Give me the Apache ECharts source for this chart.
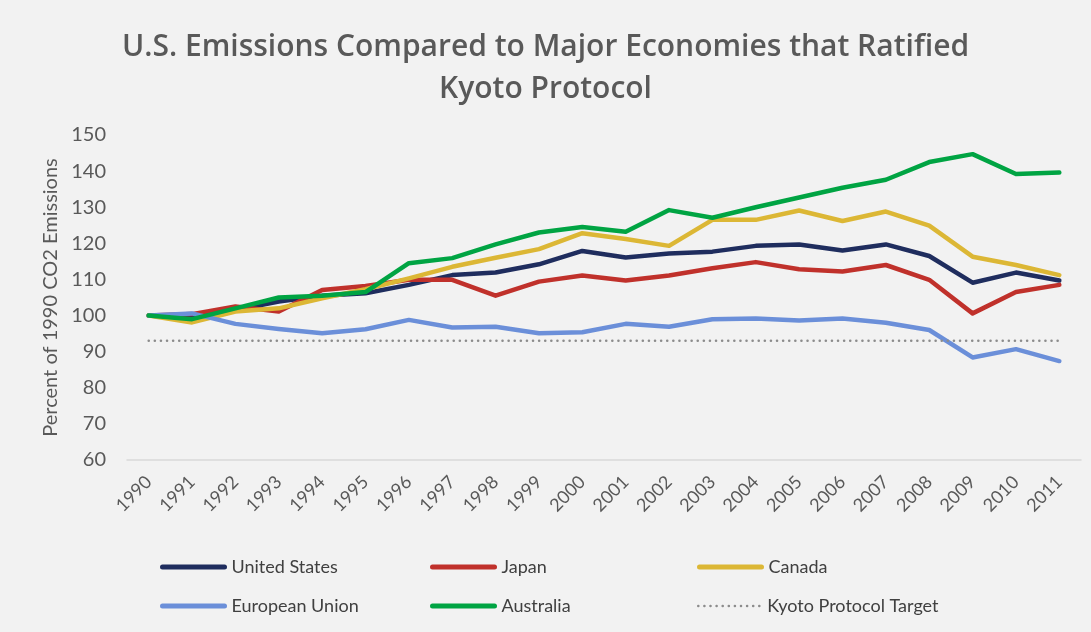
<!DOCTYPE html>
<html>
<head>
<meta charset="utf-8">
<script src="https://cdn.jsdelivr.net/npm/echarts@6/dist/echarts.min.js"></script>
<style>
  html, body { margin: 0; padding: 0; background: #f2f2f2; }
  #chart { width: 1091px; height: 632px; }
</style>
</head>
<body>
<div id="chart"></div>
<script>
const years = ['1990','1991','1992','1993','1994','1995','1996','1997','1998','1999','2000','2001','2002','2003','2004','2005','2006','2007','2008','2009','2010','2011'];
const unitedStates = [100, 99.3, 101.5, 103.9, 105.5, 106.2, 108.5, 111.2, 111.9, 114.2, 117.9, 116.1, 117.2, 117.7, 119.3, 119.7, 118.0, 119.7, 116.5, 109.1, 111.9, 109.7];
const japan = [100, 100.4, 102.5, 101.1, 107.1, 108.2, 109.9, 109.9, 105.5, 109.4, 111.1, 109.7, 111.1, 113.1, 114.8, 112.8, 112.2, 114.0, 109.9, 100.6, 106.5, 108.5];
const canada = [100, 98.1, 101.1, 102.0, 104.8, 107.3, 110.3, 113.5, 116.0, 118.4, 122.8, 121.2, 119.3, 126.5, 126.5, 129.1, 126.2, 128.8, 124.9, 116.3, 114.0, 111.2];
const europeanUnion = [100, 100.6, 97.7, 96.3, 95.1, 96.2, 98.8, 96.7, 96.9, 95.1, 95.4, 97.7, 96.9, 99.0, 99.2, 98.6, 99.2, 98.0, 96.0, 88.4, 90.7, 87.4];
const australia = [100, 99.0, 102.0, 105.0, 105.5, 106.5, 114.5, 115.9, 119.7, 123.0, 124.5, 123.2, 129.2, 127.1, 130.0, 132.7, 135.4, 137.6, 142.5, 144.7, 139.2, 139.6];
const kyotoTarget = [93, 93, 93, 93, 93, 93, 93, 93, 93, 93, 93, 93, 93, 93, 93, 93, 93, 93, 93, 93, 93, 93];
const yTicks = [60, 70, 80, 90, 100, 110, 120, 130, 140, 150];

const FONT = 'Lato';
const chart = echarts.init(document.getElementById('chart'));

function lineSeries(name, data, color, extra) {
  return Object.assign({
    name: name,
    type: 'line',
    data: data,
    symbol: 'none',
    smooth: false,
    lineStyle: { color: color, width: 4.5, cap: 'round', join: 'round' },
    itemStyle: { color: color },
    emphasis: { disabled: true }
  }, extra || {});
}

function legendAt(name, left, top, lineWidth) {
  return {
    data: [name],
    left: left,
    top: top,
    padding: 0,
    itemWidth: 62,
    itemHeight: 6,
    itemGap: 0,
    itemStyle: { opacity: 0 },
    lineStyle: { width: lineWidth || 5 },
    textStyle: { fontFamily: FONT, fontSize: 18, color: '#404040', padding: [0, 0, 0, 2] },
    selectedMode: false
  };
}

chart.setOption({
  backgroundColor: '#f2f2f2',
  animation: false,
  title: {
    text: 'U.S. Emissions Compared to Major Economies that Ratified\nKyoto Protocol',
    left: 'center',
    top: 21,
    textStyle: { fontFamily: 'Open Sans', fontSize: 30, fontWeight: 600, color: '#595959', lineHeight: 42 }
  },
  legend: [
    legendAt('United States', 160, 558),
    legendAt('Japan', 430, 558),
    legendAt('Canada', 697, 558),
    legendAt('European Union', 160, 597),
    legendAt('Australia', 430, 597),
    legendAt('Kyoto Protocol Target', 697, 597, 2.5)
  ],
  grid: { left: 127, right: 10, top: 135, bottom: 172, containLabel: false },
  xAxis: {
    type: 'category',
    data: years,
    boundaryGap: true,
    axisLine: { lineStyle: { color: '#d9d9d9', width: 1.5 } },
    axisTick: { show: false },
    axisLabel: { rotate: 45, fontFamily: FONT, fontSize: 18, color: '#595959', margin: 19, interval: 0 },
    splitLine: { show: false }
  },
  yAxis: {
    type: 'value',
    min: yTicks[0],
    max: yTicks[yTicks.length - 1],
    interval: 10,
    axisLine: { show: false },
    axisTick: { show: false },
    splitLine: { show: false },
    axisLabel: { fontFamily: FONT, fontSize: 20, color: '#595959', margin: 21 },
    name: 'Percent of 1990 CO2 Emissions',
    nameLocation: 'middle',
    nameGap: 66,
    nameTextStyle: { fontFamily: FONT, fontSize: 20, color: '#595959' }
  },
  series: [
    lineSeries('United States', unitedStates, '#1f2d5e'),
    lineSeries('Japan', japan, '#c0312b'),
    lineSeries('Canada', canada, '#dcb735'),
    lineSeries('European Union', europeanUnion, '#6b8fd9'),
    lineSeries('Australia', australia, '#00a443'),
    lineSeries('Kyoto Protocol Target', kyotoTarget, '#8c8c8c', {
      lineStyle: { color: '#8c8c8c', width: 2.5, type: [0.1, 6], cap: 'round' }
    })
  ]
});
</script>
</body>
</html>
